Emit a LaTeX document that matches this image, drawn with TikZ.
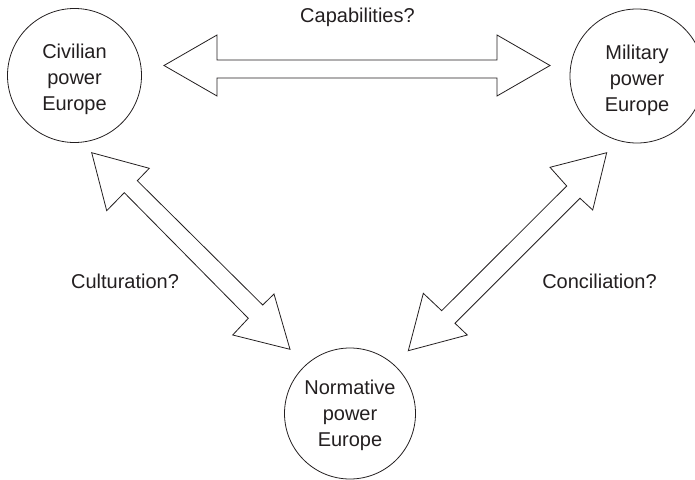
\documentclass[tikz,border=0pt]{standalone}
\usepackage{fontspec}
\setmainfont{Liberation Sans}
\definecolor{ink}{HTML}{231F20}
\begin{document}
\begin{tikzpicture}[x=1bp,y=-1bp,
  circ/.style={circle,draw=ink,line width=0.8bp,minimum size=#1,inner sep=0pt},
  lbl/.style={align=center,text=ink,font=\fontsize{20bp}{26bp}\selectfont,inner sep=0pt},
  tag/.style={text=ink,font=\fontsize{20bp}{26bp}\selectfont,inner sep=0pt,anchor=base},
  blockarrow/.style={draw=ink,line width=0.8bp,line join=miter,fill=white}]
\useasboundingbox (0,0) rectangle (695,480);
% circles
\node[circ=134bp] (civ) at (74.5,75.5) {};
\node[circ=134bp] (mil) at (637,76) {};
\node[circ=131bp] (norm) at (350,413.5) {};
\node[lbl] (civt) at ([yshift=-4bp]civ.center) {Civilian\\power\\Europe};
\node[lbl] (milt) at ([yshift=-4bp]mil.center) {Military\\power\\Europe};
\node[lbl] (normt) at ([yshift=-2bp]norm.center) {Normative\\power\\Europe};
% block arrows
\draw[blockarrow] (164,65.5) -- (217,35) -- (217,60) -- (497,60) -- (497,35)
  -- (550,65.5) -- (497,96) -- (497,78) -- (217,78) -- (217,96) -- cycle;
\draw[blockarrow] (91.7,152.7) -- (149.3,168.3) -- (137.3,180.7) -- (262.7,305)
  -- (274,294) -- (290,349.3) -- (232.7,335) -- (248.3,318.3) -- (124.3,192.7)
  -- (106.7,210.7) -- cycle;
\draw[blockarrow] (606.7,152.7) -- (550,167.3) -- (566.7,186) -- (441.7,310.7)
  -- (423.3,293.3) -- (408.3,350.7) -- (467.3,335) -- (455,323.3) -- (580,198.3)
  -- (592.7,210) -- cycle;
% labels
\node[tag] (cap) at (357.5,22.7) {Capabilities?};
\node[tag] (cul) at (125,288.3) {Culturation?};
\node[tag] (con) at (599.5,288.3) {Conciliation?};
\end{tikzpicture}
\end{document}
